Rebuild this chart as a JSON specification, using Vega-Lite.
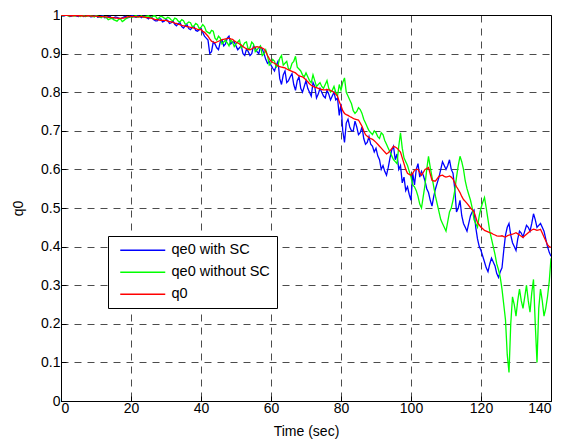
{
  "$schema": "https://vega.github.io/schema/vega-lite/v6.json",
  "width": 490,
  "height": 386,
  "autosize": "none",
  "padding": {"left": 61, "top": 15, "right": 12, "bottom": 43},
  "background": "white",
  "config": {
    "view": {"stroke": "black", "strokeWidth": 1},
    "font": "Liberation Sans",
    "axis": {
      "domainColor": "black", "tickColor": "black", "labelColor": "black", "titleColor": "black",
      "labelFont": "Liberation Sans", "titleFont": "Liberation Sans",
      "labelFontSize": 14, "titleFontSize": 14, "titleFontWeight": "normal",
      "gridColor": "black", "gridDash": [7, 6], "gridOpacity": 0.7, "gridWidth": 1,
      "tickSize": -5, "tickWidth": 1
    }
  },
  "data": {"values": [
{"t":0,"b":1.0,"g":1.0,"r":1.0},
{"t":0.5,"b":0.997,"g":0.998,"r":0.999},
{"t":1,"b":0.998,"g":0.999,"r":0.999},
{"t":1.5,"b":1.0,"g":1.0,"r":0.999},
{"t":2,"b":1.0,"g":0.998,"r":0.999},
{"t":2.5,"b":0.996,"g":0.997,"r":0.998},
{"t":3,"b":0.997,"g":1.0,"r":0.998},
{"t":3.5,"b":0.999,"g":0.998,"r":0.998},
{"t":4,"b":0.999,"g":0.997,"r":0.999},
{"t":4.5,"b":0.997,"g":1.0,"r":0.998},
{"t":5,"b":0.996,"g":0.999,"r":0.998},
{"t":5.5,"b":1.0,"g":0.996,"r":0.998},
{"t":6,"b":0.999,"g":0.998,"r":0.998},
{"t":6.5,"b":0.996,"g":0.999,"r":0.997},
{"t":7,"b":0.997,"g":0.996,"r":0.997},
{"t":7.5,"b":0.999,"g":0.997,"r":0.998},
{"t":8,"b":0.998,"g":0.999,"r":0.998},
{"t":8.5,"b":0.995,"g":0.998,"r":0.997},
{"t":9,"b":0.996,"g":0.997,"r":0.997},
{"t":9.5,"b":0.998,"g":0.995,"r":0.997},
{"t":10,"b":0.999,"g":0.998,"r":0.997},
{"t":10.5,"b":0.994,"g":0.997,"r":0.996},
{"t":11,"b":0.995,"g":0.995,"r":0.996},
{"t":11.5,"b":0.997,"g":0.993,"r":0.996},
{"t":12,"b":0.998,"g":0.997,"r":0.996},
{"t":12.5,"b":0.993,"g":0.995,"r":0.995},
{"t":13,"b":0.994,"g":0.993,"r":0.995},
{"t":13.5,"b":0.996,"g":0.988,"r":0.994},
{"t":14,"b":0.997,"g":0.99,"r":0.994},
{"t":14.5,"b":0.991,"g":0.992,"r":0.993},
{"t":15,"b":0.992,"g":0.988,"r":0.993},
{"t":15.5,"b":0.995,"g":0.986,"r":0.992},
{"t":16,"b":0.994,"g":0.984,"r":0.992},
{"t":16.5,"b":0.992,"g":0.989,"r":0.991},
{"t":17,"b":0.99,"g":0.99,"r":0.991},
{"t":17.5,"b":0.993,"g":0.983,"r":0.992},
{"t":18,"b":0.995,"g":0.986,"r":0.992},
{"t":18.5,"b":0.996,"g":0.99,"r":0.994},
{"t":19,"b":0.993,"g":0.993,"r":0.995},
{"t":19.5,"b":0.994,"g":0.996,"r":0.996},
{"t":20,"b":0.997,"g":0.995,"r":0.996},
{"t":20.5,"b":0.998,"g":0.994,"r":0.996},
{"t":21,"b":0.995,"g":0.997,"r":0.996},
{"t":21.5,"b":0.994,"g":0.998,"r":0.995},
{"t":22,"b":0.998,"g":0.994,"r":0.995},
{"t":22.5,"b":0.996,"g":0.996,"r":0.996},
{"t":23,"b":0.993,"g":0.998,"r":0.996},
{"t":23.5,"b":0.997,"g":0.994,"r":0.995},
{"t":24,"b":0.996,"g":0.996,"r":0.994},
{"t":24.5,"b":0.993,"g":0.997,"r":0.993},
{"t":25,"b":0.99,"g":0.998,"r":0.993},
{"t":25.5,"b":0.996,"g":0.994,"r":0.992},
{"t":26,"b":0.993,"g":0.995,"r":0.991},
{"t":26.5,"b":0.988,"g":0.998,"r":0.989},
{"t":27,"b":0.985,"g":0.997,"r":0.988},
{"t":27.5,"b":0.985,"g":0.99,"r":0.988},
{"t":28,"b":0.99,"g":0.993,"r":0.987},
{"t":28.5,"b":0.99,"g":0.997,"r":0.986},
{"t":29,"b":0.982,"g":0.995,"r":0.986},
{"t":29.5,"b":0.984,"g":0.992,"r":0.986},
{"t":30,"b":0.988,"g":0.99,"r":0.986},
{"t":30.5,"b":0.986,"g":0.994,"r":0.984},
{"t":31,"b":0.978,"g":0.992,"r":0.983},
{"t":31.5,"b":0.98,"g":0.987,"r":0.982},
{"t":32,"b":0.985,"g":0.985,"r":0.981},
{"t":32.5,"b":0.976,"g":0.992,"r":0.979},
{"t":33,"b":0.972,"g":0.99,"r":0.978},
{"t":33.5,"b":0.978,"g":0.984,"r":0.976},
{"t":34,"b":0.98,"g":0.982,"r":0.975},
{"t":34.5,"b":0.97,"g":0.988,"r":0.973},
{"t":35,"b":0.966,"g":0.985,"r":0.972},
{"t":35.5,"b":0.972,"g":0.976,"r":0.971},
{"t":36,"b":0.975,"g":0.978,"r":0.97},
{"t":36.5,"b":0.965,"g":0.982,"r":0.969},
{"t":37,"b":0.962,"g":0.98,"r":0.968},
{"t":37.5,"b":0.968,"g":0.97,"r":0.967},
{"t":38,"b":0.97,"g":0.972,"r":0.966},
{"t":38.5,"b":0.96,"g":0.978,"r":0.965},
{"t":39,"b":0.958,"g":0.975,"r":0.963},
{"t":39.5,"b":0.962,"g":0.965,"r":0.962},
{"t":40,"b":0.965,"g":0.968,"r":0.962},
{"t":40.5,"b":0.955,"g":0.975,"r":0.958},
{"t":41,"b":0.945,"g":0.97,"r":0.955},
{"t":41.5,"b":0.94,"g":0.958,"r":0.95},
{"t":42,"b":0.935,"g":0.955,"r":0.945},
{"t":42.5,"b":0.9,"g":0.952,"r":0.938},
{"t":43,"b":0.905,"g":0.96,"r":0.932},
{"t":43.5,"b":0.93,"g":0.958,"r":0.93},
{"t":44,"b":0.925,"g":0.94,"r":0.928},
{"t":44.5,"b":0.915,"g":0.935,"r":0.93},
{"t":45,"b":0.91,"g":0.945,"r":0.932},
{"t":45.5,"b":0.93,"g":0.94,"r":0.934},
{"t":46,"b":0.935,"g":0.925,"r":0.936},
{"t":46.5,"b":0.92,"g":0.93,"r":0.937},
{"t":47,"b":0.925,"g":0.935,"r":0.938},
{"t":47.5,"b":0.94,"g":0.928,"r":0.939},
{"t":48,"b":0.945,"g":0.92,"r":0.94},
{"t":48.5,"b":0.925,"g":0.935,"r":0.938},
{"t":49,"b":0.93,"g":0.93,"r":0.937},
{"t":49.5,"b":0.93,"g":0.918,"r":0.933},
{"t":50,"b":0.92,"g":0.925,"r":0.93},
{"t":50.5,"b":0.91,"g":0.93,"r":0.928},
{"t":51,"b":0.915,"g":0.935,"r":0.925},
{"t":51.5,"b":0.92,"g":0.915,"r":0.922},
{"t":52,"b":0.9,"g":0.92,"r":0.918},
{"t":52.5,"b":0.895,"g":0.928,"r":0.915},
{"t":53,"b":0.912,"g":0.93,"r":0.912},
{"t":53.5,"b":0.905,"g":0.91,"r":0.911},
{"t":54,"b":0.895,"g":0.915,"r":0.91},
{"t":54.5,"b":0.9,"g":0.93,"r":0.912},
{"t":55,"b":0.92,"g":0.925,"r":0.915},
{"t":55.5,"b":0.915,"g":0.905,"r":0.917},
{"t":56,"b":0.905,"g":0.91,"r":0.918},
{"t":56.5,"b":0.9,"g":0.915,"r":0.917},
{"t":57,"b":0.918,"g":0.92,"r":0.916},
{"t":57.5,"b":0.912,"g":0.895,"r":0.914},
{"t":58,"b":0.9,"g":0.9,"r":0.912},
{"t":58.5,"b":0.885,"g":0.91,"r":0.905},
{"t":59,"b":0.875,"g":0.895,"r":0.895},
{"t":59.5,"b":0.88,"g":0.87,"r":0.887},
{"t":60,"b":0.87,"g":0.875,"r":0.88},
{"t":60.5,"b":0.862,"g":0.885,"r":0.877},
{"t":61,"b":0.855,"g":0.88,"r":0.875},
{"t":61.5,"b":0.87,"g":0.865,"r":0.872},
{"t":62,"b":0.88,"g":0.87,"r":0.868},
{"t":62.5,"b":0.835,"g":0.888,"r":0.866},
{"t":63,"b":0.82,"g":0.895,"r":0.865},
{"t":63.5,"b":0.845,"g":0.87,"r":0.864},
{"t":64,"b":0.855,"g":0.875,"r":0.863},
{"t":64.5,"b":0.825,"g":0.88,"r":0.86},
{"t":65,"b":0.83,"g":0.86,"r":0.858},
{"t":65.5,"b":0.84,"g":0.86,"r":0.856},
{"t":66,"b":0.848,"g":0.875,"r":0.854},
{"t":66.5,"b":0.82,"g":0.88,"r":0.852},
{"t":67,"b":0.805,"g":0.893,"r":0.85},
{"t":67.5,"b":0.83,"g":0.865,"r":0.846},
{"t":68,"b":0.84,"g":0.86,"r":0.842},
{"t":68.5,"b":0.81,"g":0.855,"r":0.841},
{"t":69,"b":0.8,"g":0.845,"r":0.84},
{"t":69.5,"b":0.815,"g":0.84,"r":0.836},
{"t":70,"b":0.83,"g":0.85,"r":0.832},
{"t":70.5,"b":0.81,"g":0.84,"r":0.827},
{"t":71,"b":0.8,"g":0.83,"r":0.822},
{"t":71.5,"b":0.79,"g":0.825,"r":0.818},
{"t":72,"b":0.825,"g":0.845,"r":0.815},
{"t":72.5,"b":0.815,"g":0.83,"r":0.813},
{"t":73,"b":0.785,"g":0.815,"r":0.812},
{"t":73.5,"b":0.795,"g":0.82,"r":0.81},
{"t":74,"b":0.81,"g":0.825,"r":0.808},
{"t":74.5,"b":0.8,"g":0.815,"r":0.807},
{"t":75,"b":0.79,"g":0.81,"r":0.806},
{"t":75.5,"b":0.785,"g":0.82,"r":0.806},
{"t":76,"b":0.805,"g":0.83,"r":0.807},
{"t":76.5,"b":0.795,"g":0.81,"r":0.806},
{"t":77,"b":0.78,"g":0.8,"r":0.805},
{"t":77.5,"b":0.79,"g":0.805,"r":0.802},
{"t":78,"b":0.8,"g":0.815,"r":0.8},
{"t":78.5,"b":0.78,"g":0.8,"r":0.795},
{"t":79,"b":0.785,"g":0.79,"r":0.79},
{"t":79.5,"b":0.74,"g":0.82,"r":0.775},
{"t":80,"b":0.77,"g":0.805,"r":0.765},
{"t":80.5,"b":0.7,"g":0.825,"r":0.752},
{"t":81,"b":0.67,"g":0.837,"r":0.745},
{"t":81.5,"b":0.72,"g":0.8,"r":0.742},
{"t":82,"b":0.73,"g":0.79,"r":0.74},
{"t":82.5,"b":0.71,"g":0.78,"r":0.737},
{"t":83,"b":0.7,"g":0.77,"r":0.735},
{"t":83.5,"b":0.7,"g":0.752,"r":0.732},
{"t":84,"b":0.725,"g":0.745,"r":0.73},
{"t":84.5,"b":0.71,"g":0.75,"r":0.729},
{"t":85,"b":0.69,"g":0.76,"r":0.728},
{"t":85.5,"b":0.695,"g":0.755,"r":0.72},
{"t":86,"b":0.71,"g":0.745,"r":0.712},
{"t":86.5,"b":0.68,"g":0.73,"r":0.7},
{"t":87,"b":0.665,"g":0.72,"r":0.69},
{"t":87.5,"b":0.67,"g":0.71,"r":0.686},
{"t":88,"b":0.685,"g":0.7,"r":0.682},
{"t":88.5,"b":0.665,"g":0.695,"r":0.68},
{"t":89,"b":0.66,"g":0.69,"r":0.678},
{"t":89.5,"b":0.645,"g":0.7,"r":0.674},
{"t":90,"b":0.655,"g":0.695,"r":0.67},
{"t":90.5,"b":0.635,"g":0.685,"r":0.665},
{"t":91,"b":0.625,"g":0.68,"r":0.66},
{"t":91.5,"b":0.6,"g":0.695,"r":0.655},
{"t":92,"b":0.61,"g":0.69,"r":0.65},
{"t":92.5,"b":0.595,"g":0.675,"r":0.645},
{"t":93,"b":0.585,"g":0.665,"r":0.64},
{"t":93.5,"b":0.605,"g":0.655,"r":0.643},
{"t":94,"b":0.63,"g":0.645,"r":0.648},
{"t":94.5,"b":0.65,"g":0.635,"r":0.654},
{"t":95,"b":0.66,"g":0.625,"r":0.66},
{"t":95.5,"b":0.625,"g":0.62,"r":0.658},
{"t":96,"b":0.64,"g":0.615,"r":0.655},
{"t":96.5,"b":0.6,"g":0.66,"r":0.65},
{"t":97,"b":0.61,"g":0.695,"r":0.645},
{"t":97.5,"b":0.565,"g":0.655,"r":0.63},
{"t":98,"b":0.58,"g":0.63,"r":0.615},
{"t":98.5,"b":0.545,"g":0.62,"r":0.6},
{"t":99,"b":0.555,"g":0.61,"r":0.59},
{"t":99.5,"b":0.535,"g":0.595,"r":0.587},
{"t":100,"b":0.52,"g":0.58,"r":0.585},
{"t":100.5,"b":0.59,"g":0.56,"r":0.59},
{"t":101,"b":0.56,"g":0.555,"r":0.598},
{"t":101.5,"b":0.6,"g":0.545,"r":0.6},
{"t":102,"b":0.615,"g":0.53,"r":0.6},
{"t":102.5,"b":0.58,"g":0.51,"r":0.592},
{"t":103,"b":0.595,"g":0.5,"r":0.585},
{"t":103.5,"b":0.585,"g":0.53,"r":0.592},
{"t":104,"b":0.57,"g":0.56,"r":0.6},
{"t":104.5,"b":0.55,"g":0.6,"r":0.602},
{"t":105,"b":0.54,"g":0.634,"r":0.605},
{"t":105.5,"b":0.52,"g":0.605,"r":0.588},
{"t":106,"b":0.505,"g":0.58,"r":0.572},
{"t":106.5,"b":0.53,"g":0.555,"r":0.57},
{"t":107,"b":0.55,"g":0.53,"r":0.57},
{"t":107.5,"b":0.565,"g":0.51,"r":0.576},
{"t":108,"b":0.58,"g":0.49,"r":0.582},
{"t":108.5,"b":0.6,"g":0.47,"r":0.584},
{"t":109,"b":0.62,"g":0.46,"r":0.585},
{"t":109.5,"b":0.61,"g":0.45,"r":0.582},
{"t":110,"b":0.6,"g":0.44,"r":0.58},
{"t":110.5,"b":0.61,"g":0.465,"r":0.581},
{"t":111,"b":0.625,"g":0.49,"r":0.583},
{"t":111.5,"b":0.6,"g":0.5,"r":0.58},
{"t":112,"b":0.59,"g":0.52,"r":0.575},
{"t":112.5,"b":0.55,"g":0.545,"r":0.565},
{"t":113,"b":0.49,"g":0.58,"r":0.555},
{"t":113.5,"b":0.5,"g":0.61,"r":0.548},
{"t":114,"b":0.52,"g":0.634,"r":0.54},
{"t":114.5,"b":0.48,"g":0.62,"r":0.53},
{"t":115,"b":0.46,"g":0.6,"r":0.522},
{"t":115.5,"b":0.45,"g":0.57,"r":0.517},
{"t":116,"b":0.44,"g":0.55,"r":0.512},
{"t":116.5,"b":0.46,"g":0.535,"r":0.506},
{"t":117,"b":0.48,"g":0.52,"r":0.5},
{"t":117.5,"b":0.49,"g":0.5,"r":0.495},
{"t":118,"b":0.495,"g":0.47,"r":0.49},
{"t":118.5,"b":0.45,"g":0.46,"r":0.476},
{"t":119,"b":0.42,"g":0.45,"r":0.462},
{"t":119.5,"b":0.4,"g":0.48,"r":0.456},
{"t":120,"b":0.39,"g":0.5,"r":0.45},
{"t":120.5,"b":0.375,"g":0.515,"r":0.446},
{"t":121,"b":0.36,"g":0.527,"r":0.442},
{"t":121.5,"b":0.345,"g":0.5,"r":0.44},
{"t":122,"b":0.335,"g":0.47,"r":0.438},
{"t":122.5,"b":0.355,"g":0.44,"r":0.436},
{"t":123,"b":0.37,"g":0.42,"r":0.435},
{"t":123.5,"b":0.36,"g":0.4,"r":0.432},
{"t":124,"b":0.35,"g":0.38,"r":0.43},
{"t":124.5,"b":0.33,"g":0.355,"r":0.428},
{"t":125,"b":0.32,"g":0.34,"r":0.427},
{"t":125.5,"b":0.335,"g":0.32,"r":0.427},
{"t":126,"b":0.345,"g":0.29,"r":0.428},
{"t":126.5,"b":0.39,"g":0.25,"r":0.426},
{"t":127,"b":0.43,"g":0.21,"r":0.425},
{"t":127.5,"b":0.45,"g":0.12,"r":0.428},
{"t":128,"b":0.46,"g":0.074,"r":0.43},
{"t":128.5,"b":0.43,"g":0.2,"r":0.431},
{"t":129,"b":0.41,"g":0.27,"r":0.432},
{"t":129.5,"b":0.4,"g":0.25,"r":0.434},
{"t":130,"b":0.39,"g":0.22,"r":0.436},
{"t":130.5,"b":0.42,"g":0.26,"r":0.433},
{"t":131,"b":0.44,"g":0.29,"r":0.43},
{"t":131.5,"b":0.435,"g":0.26,"r":0.427},
{"t":132,"b":0.425,"g":0.24,"r":0.424},
{"t":132.5,"b":0.44,"g":0.27,"r":0.428},
{"t":133,"b":0.455,"g":0.3,"r":0.432},
{"t":133.5,"b":0.45,"g":0.26,"r":0.436},
{"t":134,"b":0.44,"g":0.23,"r":0.44},
{"t":134.5,"b":0.46,"g":0.28,"r":0.443},
{"t":135,"b":0.485,"g":0.315,"r":0.445},
{"t":135.5,"b":0.47,"g":0.2,"r":0.444},
{"t":136,"b":0.45,"g":0.1,"r":0.442},
{"t":136.5,"b":0.455,"g":0.24,"r":0.443},
{"t":137,"b":0.46,"g":0.29,"r":0.445},
{"t":137.5,"b":0.45,"g":0.26,"r":0.435},
{"t":138,"b":0.44,"g":0.22,"r":0.425},
{"t":138.5,"b":0.42,"g":0.24,"r":0.415},
{"t":139,"b":0.4,"g":0.27,"r":0.405},
{"t":139.5,"b":0.385,"g":0.31,"r":0.4},
{"t":140,"b":0.375,"g":0.37,"r":0.398}
  ]},
  "transform": [{"fold": ["b", "g", "r"], "as": ["s", "q"]}],
  "mark": {"type": "line", "strokeWidth": 1.3, "clip": true},
  "encoding": {
    "x": {"field": "t", "type": "quantitative", "scale": {"domain": [0, 140], "nice": false},
      "axis": {"values": [0,20,40,60,80,100,120,140], "title": "Time (sec)", "titlePadding": 9, "labelPadding": 5, "grid": true}},
    "y": {"field": "q", "type": "quantitative", "scale": {"domain": [0, 1], "nice": false},
      "axis": {"values": [0,0.1,0.2,0.3,0.4,0.5,0.6,0.7,0.8,0.9,1], "format": "~g", "title": "q0", "titlePadding": 15, "labelPadding": 6, "grid": true}},
    "color": {"field": "s", "type": "nominal",
      "scale": {"domain": ["b", "g", "r"], "range": ["#0000ff", "#00ff00", "#ff0000"]},
      "legend": {"orient": "none", "legendX": 47, "legendY": 221, "title": null,
        "labelExpr": "datum.label == 'b' ? 'qe0 with SC' : datum.label == 'g' ? 'qe0 without SC' : 'q0'",
        "symbolType": "M-1,0H8", "symbolSize": 100, "symbolStrokeWidth": 1.3, "symbolOffset": 3,
        "labelFontSize": 14.5, "labelFont": "Liberation Sans", "labelColor": "black", "labelOffset": 39,
        "rowPadding": 7, "fillColor": "white", "strokeColor": "black", "padding": 7}},
    "order": {"field": "s"}
  }
}
